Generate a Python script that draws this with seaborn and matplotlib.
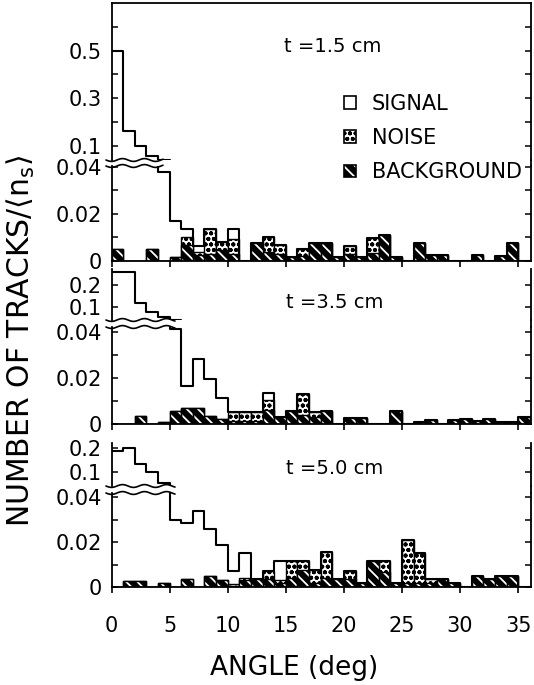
import numpy as np
import pandas as pd
import matplotlib
matplotlib.use("Agg")
import matplotlib.pyplot as plt
from matplotlib.patches import Patch
from matplotlib.lines import Line2D
from matplotlib.legend_handler import HandlerTuple
import seaborn as sns

sns.set_style("ticks")
plt.rcParams.update({
    "font.family": ["DejaVu Sans"],
    "mathtext.fontset": "dejavusans",
    "axes.edgecolor": "black",
    "axes.linewidth": 1.3,
    "xtick.color": "black",
    "ytick.color": "black",
    "text.color": "black",
    "hatch.linewidth": 1.3,
})

# ---------------------------------------------------------------- data
angle_edges = list(range(0, 37))        # 1-degree bins from 0 to 36 deg
angle_ticks = [0, 5, 10, 15, 20, 25, 30, 35]
thickness_labels = ["t =1.5 cm", "t =3.5 cm", "t =5.0 cm"]
legend_labels = ["SIGNAL", "NOISE", "BACKGROUND"]

# fraction of tracks per bin, t = 1.5 cm
signal_15 = [0.495, 0.160, 0.100, 0.050, 0.038, 0.0154, 0.0035, 0.0024, 0, 0, 0.0043, 0,
             0, 0, 0, 0, 0, 0, 0, 0, 0, 0, 0, 0,
             0, 0, 0, 0, 0, 0, 0, 0, 0, 0, 0, 0]
noise_15 = [0, 0, 0, 0, 0, 0, 0.003, 0.0015, 0.0105, 0.0037, 0.0062, 0,
            0, 0.006, 0.0038, 0, 0.003, 0, 0, 0, 0.0034, 0, 0.006, 0,
            0, 0, 0, 0, 0, 0, 0, 0, 0, 0, 0, 0]
background_15 = [0.005, 0, 0, 0.005, 0, 0.0016, 0.007, 0.0025, 0.003, 0.0045, 0.003, 0,
                 0.0078, 0.004, 0.003, 0.0018, 0.002, 0.0078, 0.0078, 0.0018, 0.003, 0.0018, 0.0036, 0.011,
                 0.0018, 0, 0.0078, 0.0026, 0.0026, 0, 0, 0.0026, 0, 0.0022, 0.0078, 0]

# t = 3.5 cm
signal_35 = [0.26, 0.26, 0.1167, 0.077, 0.056, 0.0355, 0.0095, 0.021, 0.0161, 0.0089, 0, 0,
             0, 0.003, 0, 0, 0, 0, 0, 0, 0, 0, 0, 0,
             0, 0, 0, 0, 0, 0, 0, 0, 0, 0, 0, 0]
noise_35 = [0, 0, 0, 0, 0, 0, 0, 0, 0, 0, 0.0035, 0.0035,
            0.0035, 0.0045, 0, 0, 0.009, 0.002, 0, 0, 0, 0, 0, 0,
            0, 0, 0, 0, 0, 0, 0, 0, 0, 0, 0, 0]
background_35 = [0, 0, 0.0033, 0, 0.001, 0.0055, 0.007, 0.007, 0.0033, 0.0023, 0.0015, 0.0015,
                 0.0015, 0.006, 0.003, 0.0055, 0.004, 0.003, 0.0055, 0, 0.0027, 0.0027, 0, 0,
                 0.0055, 0, 0.001, 0.0018, 0, 0.0018, 0.002, 0.0015, 0.002, 0.001, 0.001, 0.003]

# t = 5.0 cm
signal_50 = [0.19, 0.197, 0.132, 0.100, 0.056, 0.030, 0.025, 0.0336, 0.021, 0.0155, 0.006, 0.011,
             0, 0, 0.0086, 0, 0, 0, 0, 0, 0, 0, 0, 0,
             0, 0, 0, 0, 0, 0, 0, 0, 0, 0, 0, 0]
noise_50 = [0, 0, 0, 0, 0, 0, 0, 0, 0, 0, 0.0006, 0.001,
            0, 0.0035, 0.001, 0.0076, 0.004, 0.0056, 0.0114, 0, 0.0036, 0, 0, 0.005,
            0, 0.019, 0.013, 0.002, 0, 0, 0, 0, 0, 0, 0, 0]
background_50 = [0, 0.0027, 0.0027, 0, 0.0017, 0, 0.0035, 0, 0.005, 0.003, 0.0006, 0.003,
                 0.0036, 0.0036, 0.002, 0.004, 0.0076, 0.002, 0.004, 0.0036, 0.0035, 0.002, 0.0116, 0.0066,
                 0.002, 0.002, 0.002, 0.0016, 0.0036, 0.002, 0, 0.005, 0.0036, 0.005, 0.005, 0]

# broken y axis: tick values and labels for the upper (large) and lower (small) parts
upper_ticks = [[0.1, 0.3, 0.5], [0.1, 0.2], [0.1, 0.2]]
upper_ticklabels = [["0.1", "0.3", "0.5"], ["0.1", "0.2"], ["0.1", "0.2"]]
upper_minor = [[0.2, 0.4, 0.6], [], []]
lower_ticks = [0, 0.02, 0.04]
lower_ticklabels = ["0", "0.02", "0.04"]
lower_minor = [0.01, 0.03]

panels_data = [
    (signal_15, noise_15, background_15),
    (signal_35, noise_35, background_35),
    (signal_50, noise_50, background_50),
]

# ---------------------------------------------------------------- layout (pixels)
W, H = 534, 685
X0, X1 = 111.5, 531.0
X_MAX = 36.1
# (upper top, upper bottom, lower top, lower bottom) in pixels from the top
rows = [(3, 160, 166, 261), (269, 320, 327, 424), (443, 486, 493, 587)]
upper_ylims = [(0.04, 0.70), (0.042, 0.274), (0.044, 0.221)]
lower_ylims = [(0, 0.0404), (0, 0.042), (0, 0.0418)]
break_ends = [163, 175, 175]
title_pos = [(333, 47), (335, 303), (335, 469)]


def fx(px):
    return np.asarray(px) / W


def fy(py):
    return 1 - np.asarray(py) / H


fig = plt.figure(figsize=(W / 100, H / 100), dpi=100)


def draw_stack(ax, sig, noi, bkg, outline_only=False):
    df = pd.DataFrame({
        "angle": np.array(angle_edges[:-1]) + 0.5,
        "signal": sig, "noise": noi, "background": bkg,
    })
    df["noise_top"] = df["noise"] + df["background"]
    df["total"] = df["noise_top"] + df["signal"]
    common = dict(data=df, x="angle", bins=angle_edges, ax=ax)
    if not outline_only:
        # noise, stacked on the background: stippled
        sns.histplot(weights="noise_top", element="bars", fill=True,
                     facecolor="white", edgecolor="black", linewidth=1.0,
                     hatch="ooo", **common)
        # background: black with white diagonal stripes
        sns.histplot(weights="background", element="bars", fill=True,
                     facecolor="black", edgecolor="white", linewidth=0,
                     hatch="\\\\\\", **common)
        sns.histplot(weights="background", element="bars", fill=False,
                     color="black", linewidth=1.0, **common)
    # signal on top: open outline of the full stack
    sns.histplot(weights="total", element="step", fill=False,
                 color="black", linewidth=1.5, **common)
    ax.set_xlabel("")
    ax.set_ylabel("")


for k, ((ut, ub, lt, lb), (sig, noi, bkg)) in enumerate(zip(rows, panels_data)):
    ax_up = fig.add_axes([fx(X0), fy(ub), fx(X1) - fx(X0), fy(ut) - fy(ub)])
    ax_lo = fig.add_axes([fx(X0), fy(lb), fx(X1) - fx(X0), fy(lt) - fy(lb)])

    draw_stack(ax_up, sig, noi, bkg, outline_only=True)
    draw_stack(ax_lo, sig, noi, bkg)

    for ax in (ax_up, ax_lo):
        ax.set_xlim(0, X_MAX)
        ax.tick_params(axis="y", which="both", direction="in", left=True, right=True,
                       length=4, width=1.1, labelsize=15, pad=7)
        for s in ax.spines.values():
            s.set_linewidth(1.3)

    ax_up.set_ylim(*upper_ylims[k])
    ax_up.set_yticks(upper_ticks[k])
    ax_up.set_yticklabels(upper_ticklabels[k])
    ax_up.set_yticks(upper_minor[k], minor=True)
    ax_up.spines["bottom"].set_visible(False)
    if k > 0:
        ax_up.spines["top"].set_visible(False)
    ax_up.tick_params(axis="x", which="both", bottom=False, top=False,
                      labelbottom=False)

    ax_lo.set_ylim(*lower_ylims[k])
    ax_lo.set_yticks(lower_ticks)
    ax_lo.set_yticklabels(lower_ticklabels)
    ax_lo.set_yticks(lower_minor, minor=True)
    ax_lo.spines["top"].set_visible(False)
    ax_lo.set_xticks(angle_ticks)
    ax_lo.tick_params(axis="x", which="both", direction="out", bottom=True, top=False,
                      length=4, width=1.2, labelsize=15, pad=17,
                      labelbottom=(k == 2))

    # right frame continues across the break
    fig.add_artist(Line2D([fx(X1), fx(X1)], [fy(ub), fy(lt)],
                          color="black", linewidth=1.3, transform=fig.transFigure))
    # wavy break marks on the left
    xs = np.linspace(106, break_ends[k], 80)
    wave = 1.4 * np.sin(2 * np.pi * (xs - 106) / 22.0)
    for y0 in (ub, lt):
        fig.add_artist(Line2D(fx(xs), fy(y0 + wave), color="black",
                              linewidth=1.2, transform=fig.transFigure))

    tx, ty = title_pos[k]
    fig.text(fx(tx), fy(ty), thickness_labels[k], ha="center", va="center", fontsize=14)

# legend
handles = [
    Patch(facecolor="white", edgecolor="black", linewidth=1.2),
    Patch(facecolor="white", edgecolor="black", linewidth=1.2, hatch="ooo"),
    (Patch(facecolor="black", edgecolor="white", linewidth=0, hatch="\\\\\\"),
     Patch(fill=False, edgecolor="black", linewidth=1.2)),
]
fig.legend(handles, legend_labels, loc="upper left",
           bbox_to_anchor=(fx(344), fy(94)), bbox_transform=fig.transFigure,
           frameon=False, fontsize=15, handlelength=0.58, handleheight=0.58,
           handletextpad=0.75, labelspacing=0.68, borderpad=0, borderaxespad=0,
           handler_map={tuple: HandlerTuple(ndivide=1)})

fig.text(fx(21), fy(341), r"NUMBER OF TRACKS/$\langle \mathrm{n_s} \rangle$",
         rotation=90, ha="center", va="center", fontsize=21.5)
fig.text(fx(294), fy(668), "ANGLE (deg)", ha="center", va="center", fontsize=19)

fig.savefig("out.png", dpi=100)
